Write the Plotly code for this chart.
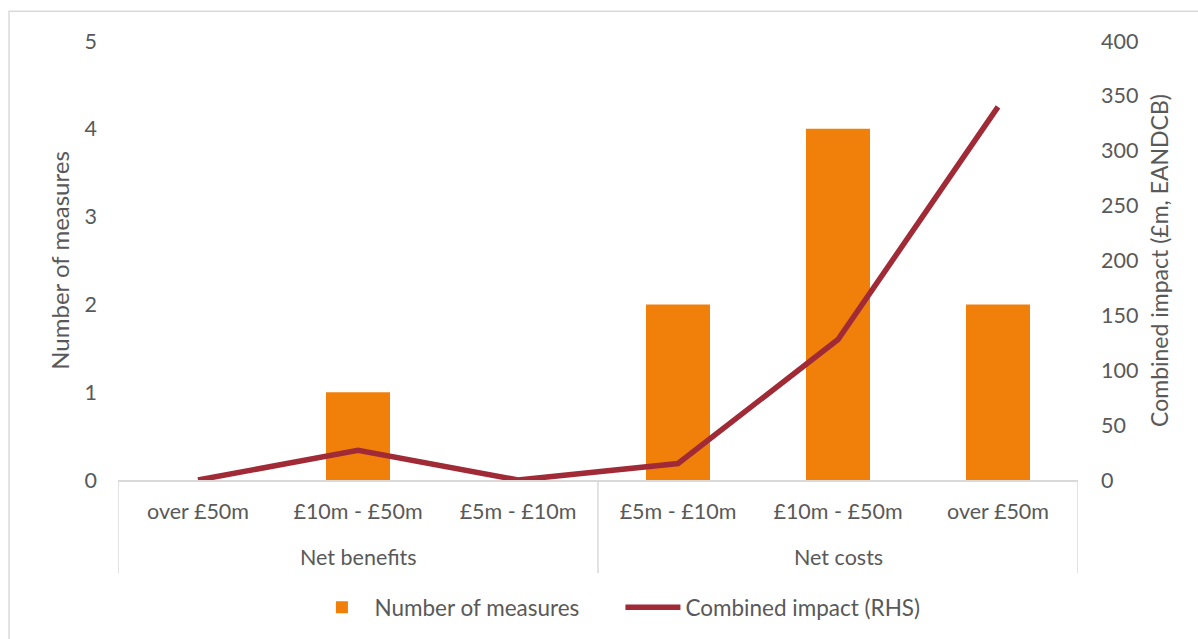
import plotly.graph_objects as go

# Chart data
groups = ["Net benefits", "Net benefits", "Net benefits", "Net costs", "Net costs", "Net costs"]
bands = ["over £50m", "£10m - £50m", "£5m - £10m", "£5m - £10m", "£10m - £50m", "over £50m"]
num_measures = [0, 1, 0, 2, 4, 2]
combined_impact = [0, 27, 0, 15, 128, 340]

left_ticks = [0, 1, 2, 3, 4, 5]
right_ticks = [0, 50, 100, 150, 200, 250, 300, 350, 400]

FONT = "Lato, Open Sans, sans-serif"
TEXT = "#595959"
BAR = "#F0800A"
LINE = "#A02A36"
AXIS = "#D9D9D9"
FS = 21.5

xpos = list(range(len(bands)))

fig = go.Figure()
fig.add_trace(go.Bar(
    x=xpos, y=num_measures, name="Number of measures",
    marker=dict(color=BAR, line=dict(width=0)), yaxis="y",
))
fig.add_trace(go.Scatter(
    x=xpos, y=combined_impact, name="Combined impact (RHS)",
    mode="lines", line=dict(color=LINE, width=5.5), yaxis="y2",
))

# Group labels centred under their categories, dividers at group boundaries
group_names = list(dict.fromkeys(groups))
annotations = []
boundaries = [-0.5]
for g in group_names:
    idx = [i for i, v in enumerate(groups) if v == g]
    annotations.append(dict(
        x=sum(idx) / len(idx), y=-0.175, xref="x", yref="paper", text=g,
        showarrow=False, xanchor="center", yanchor="middle",
        font=dict(family=FONT, size=FS, color=TEXT),
    ))
    boundaries.append(max(idx) + 0.5)

shapes = [
    dict(type="line", xref="x", yref="paper", x0=b, x1=b, y0=0, y1=-0.212,
         line=dict(color=AXIS, width=1.5))
    for b in boundaries
]
# Outer frame
shapes.append(dict(type="rect", xref="paper", yref="paper", x0=-0.1135, x1=1.2, y0=-0.4, y1=1.068,
                   line=dict(color=AXIS, width=1.5), fillcolor="rgba(0,0,0,0)", layer="below"))

fig.update_layout(
    width=1198, height=639,
    margin=dict(l=118, r=120, t=41, b=159, autoexpand=False),
    paper_bgcolor="white", plot_bgcolor="white",
    font=dict(family=FONT, size=FS, color=TEXT),
    bargap=0.6,
    showlegend=True,
    legend=dict(orientation="h", x=0.1994, xanchor="left", y=-0.242, yanchor="top",
                font=dict(size=22.5, color=TEXT), itemwidth=55,
                entrywidth=241, entrywidthmode="pixels", traceorder="normal"),
    xaxis=dict(
        range=[-0.5, len(bands) - 0.5], tickvals=xpos, ticktext=bands,
        showline=True, linecolor=AXIS, linewidth=1.5, showgrid=False, zeroline=False,
        ticks="", tickfont=dict(size=FS, color=TEXT), ticklabelstandoff=11,
        fixedrange=True, automargin=False,
    ),
    yaxis=dict(
        range=[0, 5], tickvals=left_ticks, showgrid=False, zeroline=False,
        showline=False, ticks="", tickfont=dict(size=FS, color=TEXT), ticklabelstandoff=20,
        automargin=False,
        title=dict(text="Number of measures", font=dict(size=24, color=TEXT), standoff=8),
    ),
    yaxis2=dict(
        range=[0, 400], tickvals=right_ticks, overlaying="y", side="right",
        showgrid=False, zeroline=False, showline=False, ticks="",
        tickfont=dict(size=FS, color=TEXT), ticklabelstandoff=22, automargin=False,
        title=dict(text="Combined impact (£m, EANDCB)", font=dict(size=23, color=TEXT), standoff=14),
    ),
    annotations=annotations,
    shapes=shapes,
)

fig.write_html("out.html")
